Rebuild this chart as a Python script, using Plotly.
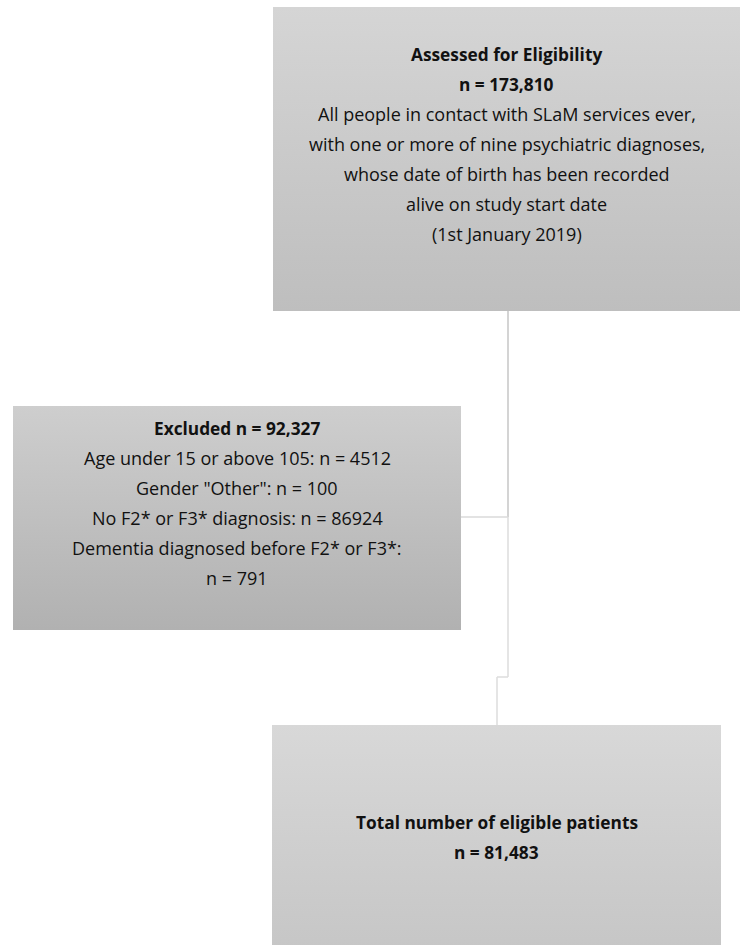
import plotly.graph_objects as go

# ---- data: box texts (bold flag, text) ----
top_lines = [
    (True, "Assessed for Eligibility"),
    (True, "n = 173,810"),
    (False, "All people in contact with SLaM services ever,"),
    (False, "with one or more of nine psychiatric diagnoses,"),
    (False, "whose date of birth has been recorded"),
    (False, "alive on study start date"),
    (False, "(1st January 2019)"),
]
excluded_lines = [
    (True, "Excluded n = 92,327"),
    (False, "Age under 15 or above 105: n = 4512"),
    (False, "Gender \"Other\": n = 100"),
    (False, "No F2* or F3* diagnosis: n = 86924"),
    (False, "Dementia diagnosed before F2* or F3*:"),
    (False, "n = 791"),
]
bottom_lines = [
    (True, "Total number of eligible patients"),
    (True, "n = 81,483"),
]

W, H = 740, 945
FONT = "Open Sans"
FS = 18
FS_BOLD = 17.3
LINE = 30

# box geometry (pixel space, y down)
boxes = [
    dict(x0=273, x1=740, y0=7, y1=311, c0="#d5d5d5", c1="#bebebe",
         lines=top_lines, first=54),
    dict(x0=13, x1=461, y0=406, y1=630, c0="#cecece", c1="#b1b1b1",
         lines=excluded_lines, first=428),
    dict(x0=272, x1=721, y0=725, y1=952, c0="#d8d8d8", c1="#c6c6c6",
         lines=bottom_lines, first=822),
]

fig = go.Figure()
annotations = []
for b in boxes:
    fig.add_trace(go.Scatter(
        x=[b["x0"], b["x1"], b["x1"], b["x0"], b["x0"]],
        y=[b["y0"], b["y0"], b["y1"], b["y1"], b["y0"]],
        mode="lines", fill="toself", line=dict(width=0, color="rgba(0,0,0,0)"),
        fillgradient=dict(type="vertical",
                          colorscale=[[0, b["c1"]], [1, b["c0"]]]),
        hoverinfo="skip", showlegend=False))
    cx = (b["x0"] + b["x1"]) / 2
    for i, (bold, txt) in enumerate(b["lines"]):
        annotations.append(dict(
            x=cx, y=b["first"] + i * LINE, xref="x", yref="y",
            text=f"<b>{txt}</b>" if bold else txt, showarrow=False,
            font=dict(family=FONT, size=FS_BOLD if bold else FS, color="#111111"),
            xanchor="center", yanchor="middle"))

# connectors
shapes = [
    dict(type="line", x0=508, x1=508, y0=311, y1=517, line=dict(color="#c6c6c6", width=1.5)),
    dict(type="line", x0=461, x1=508, y0=517, y1=517, line=dict(color="#dadada", width=1.5)),
    dict(type="line", x0=508, x1=508, y0=517, y1=677, line=dict(color="#dcdcdc", width=1.5)),
    dict(type="line", x0=497, x1=508, y0=677, y1=677, line=dict(color="#dcdcdc", width=1.5)),
    dict(type="line", x0=497, x1=497, y0=677, y1=725, line=dict(color="#dcdcdc", width=1.5)),
]

fig.update_layout(
    width=W, height=H, margin=dict(l=0, r=0, t=0, b=0),
    paper_bgcolor="white", plot_bgcolor="white",
    xaxis=dict(range=[0, W], visible=False, fixedrange=True),
    yaxis=dict(range=[H, 0], visible=False, fixedrange=True),
    annotations=annotations, shapes=shapes, showlegend=False,
)
fig.write_html(
    "out.html",
    config={"displayModeBar": False},
    post_script="document.body.style.margin='0';document.body.style.overflow='hidden';",
)
